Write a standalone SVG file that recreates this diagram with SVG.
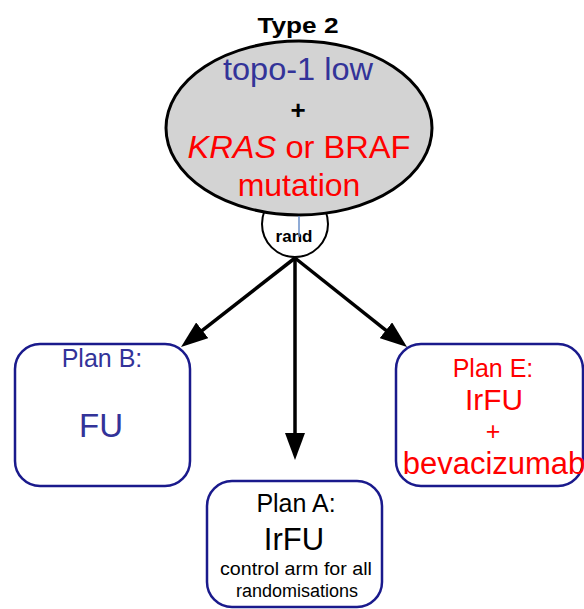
<svg xmlns="http://www.w3.org/2000/svg" width="584" height="609" viewBox="0 0 584 609">
  <defs>
    <marker id="arrow" viewBox="0 0 27 20" refX="17" refY="10" markerWidth="27" markerHeight="20" markerUnits="userSpaceOnUse" orient="auto">
      <path d="M0,0 L27,10 L0,20 z" fill="#000"/>
    </marker>
  </defs>
  <style>
    text { font-family: "Liberation Sans", Arial, sans-serif; text-anchor: middle; }
    .box { fill: #fff; stroke: #1a1a8c; stroke-width: 2.5; }
    .blue { fill: #333399; }
    .red { fill: #ff0000; }
    .conn { stroke: #000; stroke-width: 3.5; fill: none; marker-end: url(#arrow); }
  </style>

  <g id="connectors">
    <!-- each line stops 10px short of its tip; the marker reaches the rest -->
    <line class="conn" x1="295" y1="258" x2="188.9" y2="340.8"/>
    <line class="conn" x1="295" y1="258" x2="295" y2="450"/>
    <line class="conn" x1="295" y1="258" x2="399.2" y2="340.8"/>
  </g>

  <g id="rand">
    <circle cx="295" cy="224" r="33" fill="#fff" stroke="#000" stroke-width="2"/>
    <text x="294" y="242" font-size="17" font-weight="bold">rand</text>
  </g>

  <g id="type2">
    <text x="298" y="33" font-size="22" font-weight="bold" textLength="81" lengthAdjust="spacingAndGlyphs">Type 2</text>
    <ellipse cx="299" cy="128" rx="133" ry="87" fill="#d3d3d3" stroke="#000" stroke-width="3"/>
    <line x1="299" y1="216" x2="299" y2="237" stroke="#6a8fc8" stroke-width="1.5"/>
    <text x="298" y="80" font-size="31" class="blue" textLength="150" lengthAdjust="spacingAndGlyphs">topo-1 low</text>
    <text x="298" y="119" font-size="26" font-weight="bold">+</text>
    <text x="299" y="158" font-size="32" class="red" textLength="223" lengthAdjust="spacingAndGlyphs"><tspan font-style="italic">KRAS</tspan> or BRAF</text>
    <text x="299" y="196" font-size="32" class="red">mutation</text>
  </g>

  <g id="planB">
    <rect class="box" x="15" y="344" width="175" height="142" rx="25"/>
    <text x="102" y="367" font-size="25" class="blue">Plan B:</text>
    <text x="101" y="437" font-size="33" class="blue">FU</text>
  </g>

  <g id="planE">
    <rect class="box" x="396" y="344" width="187" height="142" rx="25"/>
    <text x="493" y="377" font-size="25" class="red">Plan E:</text>
    <text x="494" y="410" font-size="30" class="red" textLength="58" lengthAdjust="spacingAndGlyphs">IrFU</text>
    <text x="493" y="440" font-size="25" class="red">+</text>
    <text x="494" y="474" font-size="31" class="red">bevacizumab</text>
  </g>

  <g id="planA">
    <rect class="box" x="207" y="481" width="175" height="126" rx="25"/>
    <text x="296" y="512" font-size="25">Plan A:</text>
    <text x="294" y="550" font-size="31">IrFU</text>
    <text x="296" y="575" font-size="18" textLength="152" lengthAdjust="spacingAndGlyphs">control arm for all</text>
    <text x="297" y="597" font-size="18">randomisations</text>
  </g>
</svg>
